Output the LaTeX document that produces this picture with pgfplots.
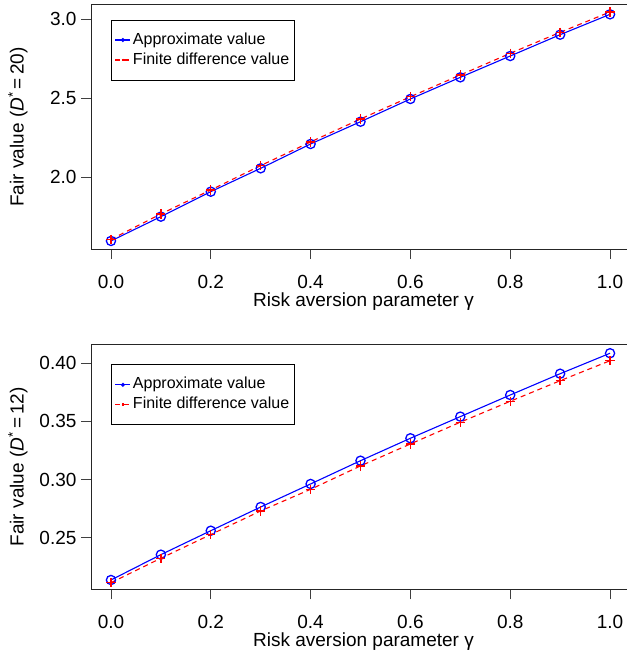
\documentclass[border=0pt]{standalone}
\usepackage{fontspec}
\setmainfont{Liberation Sans}
\usepackage{pgfplots}
\pgfplotsset{compat=1.18}

\pgfplotstableread{
g approx fd
0.0 1.595 1.605
0.1 1.749 1.766
0.2 1.907 1.918
0.3 2.055 2.072
0.4 2.209 2.222
0.5 2.350 2.367
0.6 2.494 2.508
0.7 2.631 2.646
0.8 2.766 2.783
0.9 2.901 2.916
1.0 3.030 3.045
}\tabtop

\pgfplotstableread{
g approx fd
0.0 0.2136 0.2113
0.1 0.2354 0.2323
0.2 0.2560 0.2527
0.3 0.2764 0.2730
0.4 0.2962 0.2916
0.5 0.3162 0.3117
0.6 0.3355 0.3306
0.7 0.3541 0.3493
0.8 0.3727 0.3673
0.9 0.3910 0.3850
1.0 0.4086 0.4022
}\tabbot

\pgfplotsset{
  rstyle/.style={
    scale only axis,
    width=539pt,
    xmin=-0.04, xmax=1.04,
    axis line style={line width=1pt, black!85},
    tick style={line width=0.9pt, black!75},
    tick align=outside,
    major tick length=10pt,
    xtick pos=bottom, ytick pos=left,
    xtick={0,0.2,0.4,0.6,0.8,1.0},
    /pgf/number format/assume math mode=true,
    tick label style={font=\fontsize{19}{22}\selectfont},
    xticklabel style={/pgf/number format/.cd, fixed, fixed zerofill, precision=1, /tikz/.cd, inner sep=0pt, yshift=-16pt},
    yticklabel style={xshift=-1pt},
    every axis x label/.style={at={(axis description cs:0.5,0)}, anchor=base, inner sep=0pt, yshift=-57pt, xshift=3pt, font=\fontsize{19}{22}\selectfont},
    every axis y label/.style={at={(axis description cs:0,0.5)}, rotate=90, anchor=center, yshift=73pt, font=\fontsize{19}{22}\selectfont},
    xlabel={Risk aversion parameter γ},
    legend cell align=left,
    legend style={draw=black, line width=0.8pt, inner xsep=3pt, inner ysep=10pt,
      font=\fontsize{16}{19}\selectfont,
      nodes={inner xsep=2pt, inner ysep=2pt, text height=12pt, text depth=4pt},
      anchor=north west},
    legend image code/.code={
      \draw[mark repeat=2, mark phase=2, mark size=1.3pt, #1] plot coordinates {(0pt,0pt) (7.5pt,0pt) (15pt,0pt)};
    },
  },
  approx/.style={blue, line width=1.1pt, mark=o, mark size=4.6pt, mark options={solid, line width=1.3pt}},
  fd/.style={red, line width=1.1pt, dash pattern=on 5pt off 4pt, mark=+, mark size=4.6pt, mark options={solid, line width=1.3pt}},
}

\begin{document}
\begin{tikzpicture}
\begin{axis}[rstyle,
  at={(91pt,-5pt)}, anchor=north west,
  height=244pt,
  ymin=1.544, ymax=3.089,
  ytick={2.0,2.5,3.0},
  yticklabel style={/pgf/number format/.cd, fixed, fixed zerofill, precision=1},
  ylabel={Fair value (\textit{D}\textsuperscript{*}\,=\,20)},
  legend style={at={(axis description cs:0.038,0.94)}},
]
\addplot[approx] table[x=g, y=approx] {\tabtop};
\addlegendentry{Approximate value}
\addplot[fd] table[x=g, y=fd] {\tabtop};
\addlegendentry{Finite difference value}
\end{axis}

\begin{axis}[rstyle,
  at={(91pt,-344.3pt)}, anchor=north west,
  height=245pt,
  ymin=0.2056, ymax=0.4163,
  ytick={0.25,0.30,0.35,0.40},
  yticklabel style={/pgf/number format/.cd, fixed, fixed zerofill, precision=2},
  ylabel={Fair value (\textit{D}\textsuperscript{*}\,=\,12)},
  legend style={at={(axis description cs:0.038,0.918)}},
]
\addplot[approx] table[x=g, y=approx] {\tabbot};
\addlegendentry{Approximate value}
\addplot[fd] table[x=g, y=fd] {\tabbot};
\addlegendentry{Finite difference value}
\end{axis}
\pgfresetboundingbox
\useasboundingbox (0,0) rectangle (626pt,-652pt);
\end{tikzpicture}
\end{document}
